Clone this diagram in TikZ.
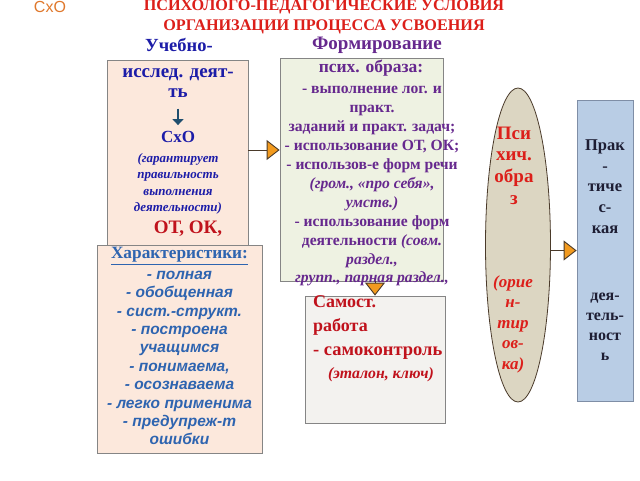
\documentclass[tikz,border=0pt]{standalone}
\usepackage{fontspec}
\setmainfont{Liberation Serif}
\setsansfont{Liberation Sans}
\usetikzlibrary{positioning,shapes.geometric,arrows.meta}

\definecolor{titlered}{HTML}{DC1F1A}
\definecolor{sxoorange}{HTML}{E0782C}
\definecolor{uchblue}{HTML}{1C1CA8}
\definecolor{charblue}{HTML}{2E64B0}
\definecolor{formpurple}{HTML}{66288E}
\definecolor{darkred}{HTML}{C0121C}
\definecolor{peach}{HTML}{FCE8DC}
\definecolor{palegreen}{HTML}{EEF2E2}
\definecolor{palegray}{HTML}{F3F2EF}
\definecolor{ellfill}{HTML}{DCD6C2}
\definecolor{prakblue}{HTML}{B9CDE5}
\definecolor{prakborder}{HTML}{7F8EA6}
\definecolor{boxgray}{HTML}{858585}
\definecolor{arrorange}{HTML}{F29A1E}
\definecolor{arrline}{HTML}{4A3A2A}
\definecolor{tealarr}{HTML}{1F4E6E}
\definecolor{inkdark}{HTML}{1E1E34}

\begin{document}
\begin{tikzpicture}[x=1pt,y=-1pt,
    box/.style={draw=boxgray,line width=0.8pt,inner sep=0pt},
    txt/.style={inner sep=0pt,align=center},
    tri/.style={draw=arrline,line width=0.9pt,
                -{Triangle[length=13pt,width=20pt,fill=arrorange]}}
  ]
  \useasboundingbox[fill=white] (0,0) rectangle (640,480);

  % title
  \node[txt,text=sxoorange,font=\sffamily\fontsize{16}{18}\selectfont] (sxotitle) at (50,7) {СхО};
  \node[txt,text=titlered,font=\bfseries\fontsize{16.2}{19.5}\selectfont] (title) at (324,17)
       {ПСИХОЛОГО-ПЕДАГОГИЧЕСКИЕ УСЛОВИЯ\\ОРГАНИЗАЦИИ ПРОЦЕССА УСВОЕНИЯ};

  % boxes
  \node[box,fill=peach,minimum width=141pt,minimum height=185pt] (uch) at (177.5,152.5) {};
  \node[box,fill=peach,minimum width=165pt,minimum height=208pt] (harakt) at (179.5,349) {};
  \node[box,fill=palegreen,minimum width=163pt,minimum height=223pt] (form) at (361.5,169.5) {};
  \node[box,fill=palegray,minimum width=140pt,minimum height=127pt] (samo) at (375,359.5) {};
  \node[ellipse,draw=arrline,fill=ellfill,line width=0.8pt,inner sep=0pt,
        minimum width=65pt,minimum height=314pt] (obraz) at (518,245) {};
  \node[draw=prakborder,fill=prakblue,line width=0.8pt,inner sep=0pt,
        minimum width=56pt,minimum height=301pt] (prak) at (605,250.5) {};

  % learning activity
  \node[txt,text=uchblue,font=\bfseries\fontsize{18.5}{20}\selectfont] (uchhead) at (179,45) {Учебно-};
  \node[txt,text=uchblue,font=\bfseries\fontsize{19}{20}\selectfont] (issl) at (178,83) {исслед. деят-\\ть};
  \node[txt,text=uchblue,font=\bfseries\fontsize{17}{20}\selectfont] (sxo) at (178,137) {СхО};
  \node[txt,text=uchblue,font=\bfseries\itshape\fontsize{13}{16.5}\selectfont] (garant) at (178,184)
       {(гарантирует\\правильность\\выполнения\\деятельности)};
  \node[txt,text=darkred,font=\bfseries\fontsize{19}{20}\selectfont] (otok) at (188,229) {ОТ, ОК,};
  \draw[tealarr,line width=1.2pt,-{Triangle[length=6pt,width=11pt]},
        shorten <=11pt,shorten >=6pt] (issl.south) -- (sxo.north);

  % characteristics
  \node[txt,text=charblue,font=\bfseries\fontsize{17.3}{19}\selectfont] (harhead) at (179.5,256)
       {\underline{Характеристики:}};
  \node[txt,text=charblue,font=\sffamily\bfseries\itshape\fontsize{15.5}{18.4}\selectfont] (harlist) at (179.5,358)
       {- полная\\- обобщенная\\- сист.-структ.\\- построена\\учащимся\\- понимаема,\\- осознаваема\\- легко применима\\- предупреж-т\\ошибки};

  % forming the image
  \node[txt,text=formpurple,font=\bfseries\fontsize{19}{20}\selectfont] (formhead) at (377,45) {Формирование};
  \node[txt,text=formpurple,font=\bfseries\fontsize{17.5}{20}\selectfont] (psih) at (371,68) {псих. образа:};
  \node[txt,text=formpurple,font=\bfseries\fontsize{15.6}{18.9}\selectfont] (formlist) at (372,186.5)
       {- выполнение лог. и\\практ.\\заданий и практ. задач;\\- использование ОТ, ОК;\\- использов-е форм речи\\
        \textit{(гром., «про себя»,}\\\textit{умств.)}\\- использование форм\\деятельности \textit{(совм.}\\
        \textit{раздел.,}\\\textit{групп., парная раздел.,}};

  % independent work
  \node[inner sep=0pt,anchor=base west,text=darkred,font=\bfseries\fontsize{18}{20}\selectfont] (samo1) at (313,307) {Самост.};
  \node[inner sep=0pt,anchor=base west,text=darkred,font=\bfseries\fontsize{18}{20}\selectfont] (samo2) at (313,331) {работа};
  \node[inner sep=0pt,anchor=base west,text=darkred,font=\bfseries\fontsize{18.5}{20}\selectfont] (samo3) at (313,355) {- самоконтроль};
  \node[inner sep=0pt,anchor=base west,text=darkred,font=\bfseries\itshape\fontsize{15.8}{20}\selectfont] (samo4) at (328,378) {(эталон, ключ)};

  % mental image
  \node[txt,text=titlered,font=\bfseries\fontsize{19}{21.7}\selectfont] (psi) at (514,165.5) {Пси\\хич.\\обра\\з};
  \node[txt,text=titlered,font=\bfseries\itshape\fontsize{17}{20.5}\selectfont] (orient) at (513,324) {(орие\\н-\\тир\\ов-\\ка)};

  % practical activity
  \node[txt,text=inkdark,font=\bfseries\fontsize{16.5}{20.7}\selectfont] (prak1) at (605,186.5) {Прак\\-\\тиче\\с-\\кая};
  \node[txt,text=inkdark,font=\bfseries\fontsize{16}{20}\selectfont] (prak2) at (605,327) {дея-\\тель-\\ност\\ь};

  % arrows
  \draw[tri] (uch.east |- 0,150) -- (form.west |- 0,150);
  \draw[tri] (form.south -| samo.north) -- (samo.north);
  \draw[tri] (obraz.east |- prak.west) -- (prak.west);
\end{tikzpicture}
\end{document}
